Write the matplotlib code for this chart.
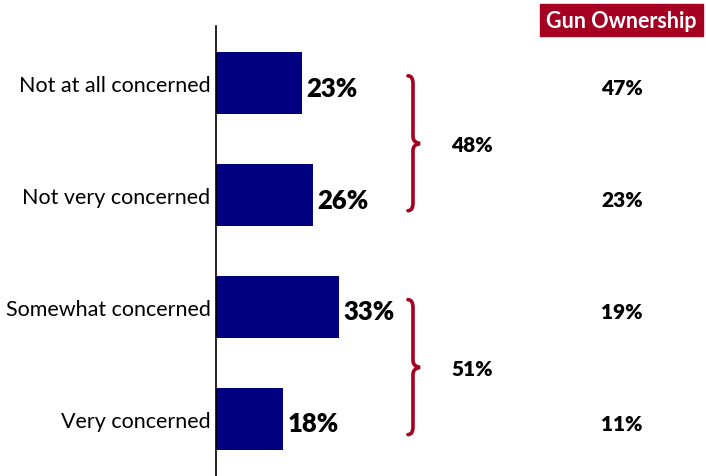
import matplotlib.pyplot as plt
from matplotlib.path import Path
from matplotlib.patches import PathPatch, Rectangle
from matplotlib.transforms import blended_transform_factory

plt.rcParams['font.family'] = ['Lato', 'DejaVu Sans']

categories = ["Not at all concerned", "Not very concerned",
              "Somewhat concerned", "Very concerned"]
values = [23, 26, 33, 18]
gun_owners = [47, 23, 19, 11]
group_totals = [48, 51]
groups = [(0, 1), (2, 3)]

navy = "#000080"
red = "#A50021"
numweight = "heavy"

fig = plt.figure(figsize=(7.06, 4.77), dpi=100)
ax = fig.add_axes([216 / 706, 0, 490 / 706, 450 / 477])

ypos = list(range(len(categories)))
ax.barh(ypos, values, height=0.554, color=navy)
ax.set_xlim(0, 490 / 3.74)
ax.set_ylim(3.51, -0.51)

for y, v in zip(ypos, values):
    ax.text(v + 1.2, y + 0.04, f"{v}%", va="center", ha="left",
            fontsize=18.5, fontweight=numweight, color="black")

ax.set_yticks(ypos)
ax.set_yticklabels(categories, fontsize=15.5)
ax.tick_params(axis="y", length=0, pad=4)
ax.set_xticks([])
for side in ["top", "right", "bottom"]:
    ax.spines[side].set_visible(False)
ax.spines["left"].set_linewidth(1.2)

# brackets grouping the two "not concerned" and the two "concerned" answers
tr = blended_transform_factory(fig.transFigure, ax.transData)
W = 706.0


def brace(y0, y1, ym):
    xe, xb, xt = 408 / W, 413 / W, 420 / W
    verts = [(xe, y0), (xb, y0), (xb, y0 + 0.07),
             (xb, ym - 0.06),
             (xb, ym - 0.01), (xt, ym),
             (xb, ym + 0.01), (xb, ym + 0.06),
             (xb, y1 - 0.07),
             (xb, y1), (xe, y1)]
    codes = [Path.MOVETO, Path.CURVE3, Path.CURVE3,
             Path.LINETO,
             Path.CURVE3, Path.CURVE3,
             Path.CURVE3, Path.CURVE3,
             Path.LINETO,
             Path.CURVE3, Path.CURVE3]
    ax.add_patch(PathPatch(Path(verts, codes), transform=tr, fill=False,
                           edgecolor=red, lw=2.6, clip_on=False,
                           capstyle="round"))


for (a, b), tot in zip(groups, group_totals):
    y0, y1 = a - 0.065, b + 0.14
    ym = (a + b) / 2 + 0.04
    brace(y0, y1, ym)
    ax.text(472 / W, ym + 0.01, f"{tot}%", transform=tr, ha="center",
            va="center", fontsize=15, fontweight=numweight)

for y, g in zip(ypos, gun_owners):
    ax.text(622 / W, y + 0.04, f"{g}%", transform=tr, ha="center",
            va="center", fontsize=15, fontweight=numweight)

# column header
fig.patches.append(Rectangle((540 / W, 1 - 37 / 477), 163 / W, 32 / 477,
                             transform=fig.transFigure, color=red))
fig.text(621.5 / W, 1 - 21 / 477, "Gun Ownership", ha="center", va="center",
         color="white", fontsize=15.5, fontweight="bold")

fig.savefig("out.png", dpi=100)
